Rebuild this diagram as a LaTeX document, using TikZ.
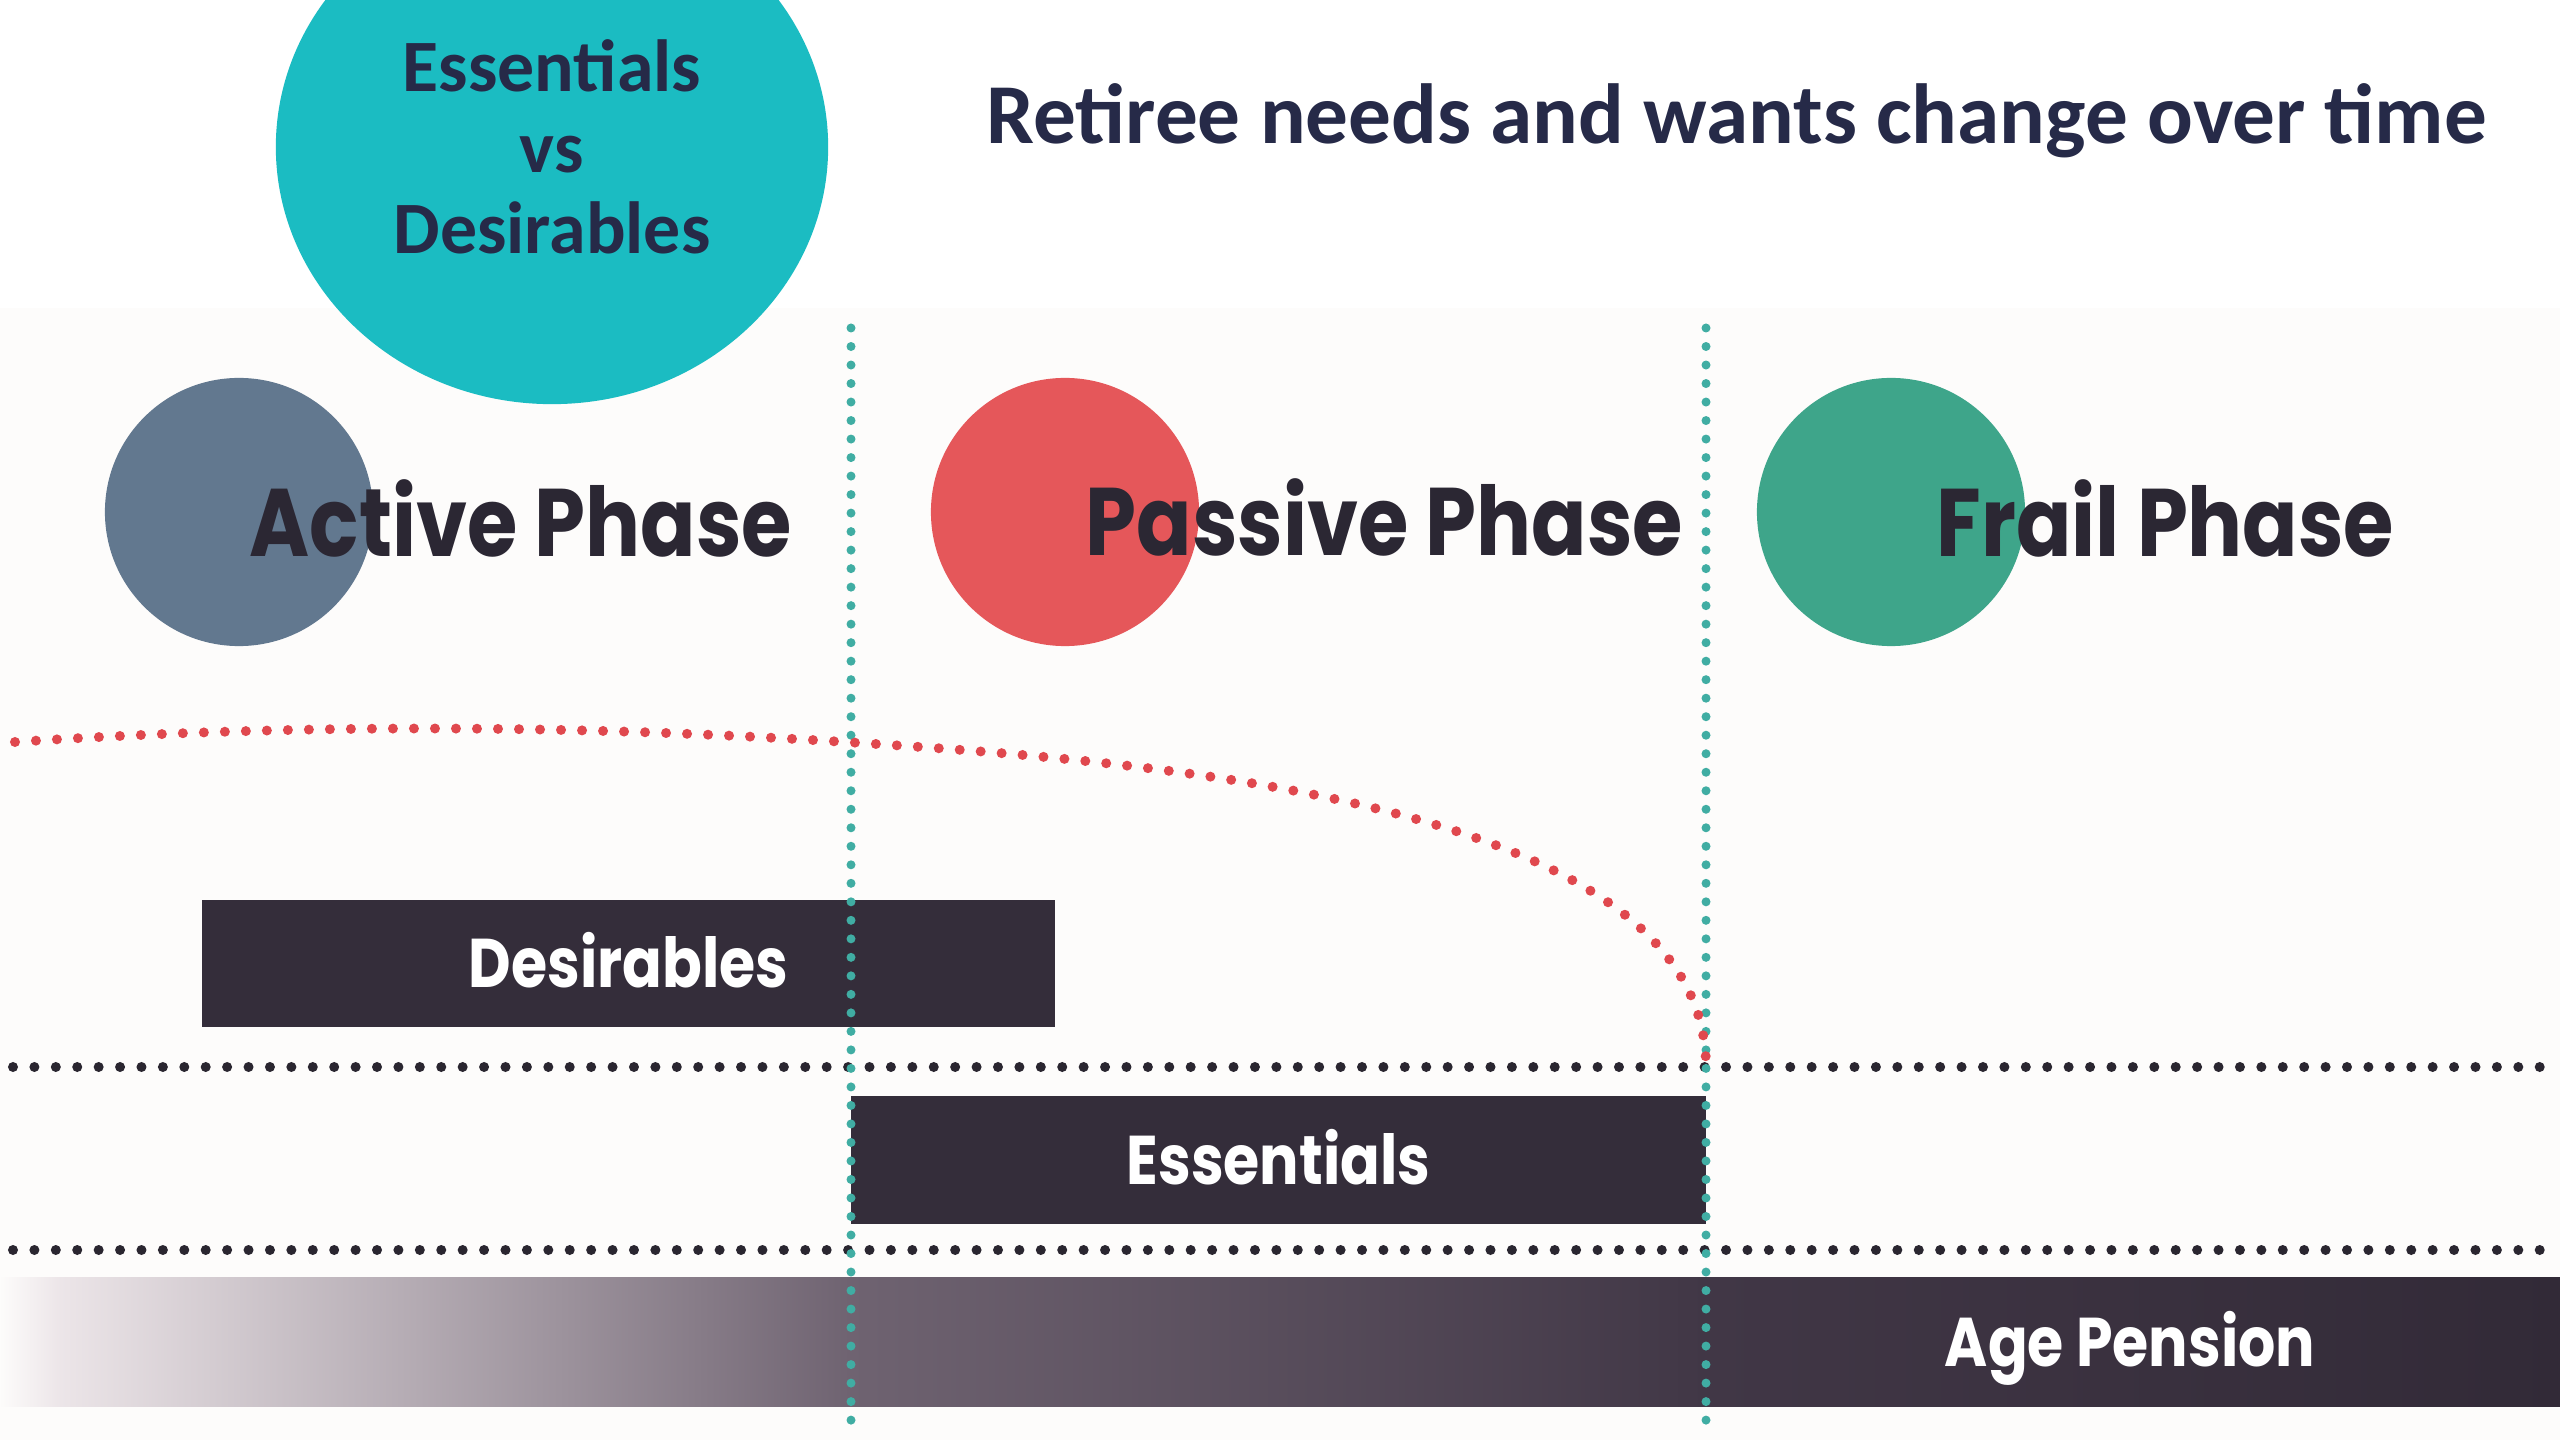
\documentclass[tikz,border=0pt]{standalone}
\usepackage{xcolor}
\usepackage{fontspec}
\usetikzlibrary{shapes.geometric}
\setmainfont{Carlito}
\newfontfamily\phasefont[FakeStretch=0.85]{Poppins}

\definecolor{navytext}{HTML}{262A48}
\definecolor{tealbig}{HTML}{1BBCC2}
\definecolor{activecol}{HTML}{62788F}
\definecolor{passivecol}{HTML}{E5575A}
\definecolor{frailcol}{HTML}{3EA58A}
\definecolor{barcol}{HTML}{342D3A}
\definecolor{labelcol}{HTML}{2B2733}
\definecolor{tealdot}{HTML}{40ADA3}
\definecolor{reddot}{HTML}{E0484E}
\definecolor{blackdot}{HTML}{2A2630}
\definecolor{bandcol}{HTML}{FDFCFB}

% fade of the pension bar, left to right
\pgfdeclarehorizontalshading{pension}{100bp}{
	color(0bp)=(bandcol); color(25bp)=(bandcol);
	rgb(26.2bp)=(0.925,0.898,0.910);
	rgb(41.6bp)=(0.435,0.388,0.443);
	rgb(58.3bp)=(0.255,0.216,0.275);
	rgb(75bp)=(0.196,0.165,0.216); rgb(100bp)=(0.196,0.165,0.216)}

\begin{document}
\begin{tikzpicture}[x=0.01cm,y=-0.01cm,
	phasecircle/.style={circle, minimum size=2.68cm, inner sep=0pt},
	phaselabel/.style={anchor=base west, inner sep=0pt, text=labelcol,
		font=\phasefont\bfseries\fontsize{27.3}{30}\selectfont},
	barlabel/.style={inner sep=0pt, text=white, text height=0.48cm, text depth=0pt,
		font=\phasefont\bfseries\fontsize{19.6}{22}\selectfont},
	barbox/.style={barlabel, fill=barcol, minimum height=1.27cm},
	tealline/.style={draw=tealdot, line width=0.09cm, line cap=round, dash pattern=on 0pt off 0.185cm},
	blackline/.style={draw=blackdot, line width=0.10cm, line cap=round, dash pattern=on 0pt off 0.214cm},
	redline/.style={draw=reddot, line width=0.10cm, line cap=round, dash pattern=on 0pt off 0.21cm}]
	
	\useasboundingbox (0,0) rectangle (2560,1440);
	\fill[white] (0,0) rectangle (2560,1440);
	\fill[bandcol] (0,308) rectangle (2560,1440);
	
	% heading
	\node[ellipse, fill=tealbig, minimum width=5.52cm, minimum height=5.14cm, inner sep=0pt,
		align=center, text=navytext, font=\bfseries\fontsize{21}{23}\selectfont]
		(essvsdes) at (552,147) {Essentials\\vs\\Desirables};
	\node[anchor=base west, inner sep=0pt, text=navytext, font=\bfseries\fontsize{24.25}{26}\selectfont]
		(title) at (986,144) {Retiree needs and wants change over time};
	
	% the three phases
	\node[phasecircle, fill=activecol] (activedot) at (239,512) {};
	\node[phasecircle, fill=passivecol] (passivedot) at (1065,512) {};
	\node[phasecircle, fill=frailcol] (fraildot) at (1891,512) {};
	\node[phaselabel] (activetxt) at (249,557) {Active Phase};
	\node[phaselabel] (passivetxt) at (1085,556) {Passive Phase};
	\node[phaselabel] (frailtxt) at (1936,557) {Frail Phase};
	
	% bars
	\node[barbox, minimum width=8.53cm] (desirables) at (628.5,963.5) {Desirables};
	\node[barbox, minimum width=8.55cm] (essentials) at (1278.5,1160) {Essentials};
	\node[shading=pension, shade, minimum width=25.6cm, minimum height=1.28cm, inner sep=0pt]
		(pension) at (1280,1342) {};
	\node[barlabel] (pensiontxt) at (2130,1342) {Age Pension};
	
	% dotted guides
	\coordinate (levelAleft) at (13,1067);
	\coordinate (levelAright) at (2560,1067);
	\coordinate (levelBleft) at (13,1250);
	\coordinate (levelBright) at (2560,1250);
	\draw[blackline] (levelAleft) -- (levelAright);
	\draw[blackline] (levelBleft) -- (levelBright);
	
	\coordinate (splitAtop) at (851,328);
	\coordinate (splitAbot) at (851,1432);
	\coordinate (splitBtop) at (1706,328);
	\coordinate (splitBbot) at (1706,1432);
	\draw[tealline] (splitAtop) -- (splitAbot);
	\draw[tealline] (splitBtop) -- (splitBbot);
	
	% spending curve
	\coordinate (spendstart) at (15,742);
	\coordinate (spendmid) at (845,742);
	\coordinate (spendend) at (1706,1067);
	\draw[redline] (spendstart) .. controls (290,724) and (560,724) .. (spendmid)
		.. controls (1145,761) and (1706,800) .. (spendend);
	
\end{tikzpicture}
\end{document}
